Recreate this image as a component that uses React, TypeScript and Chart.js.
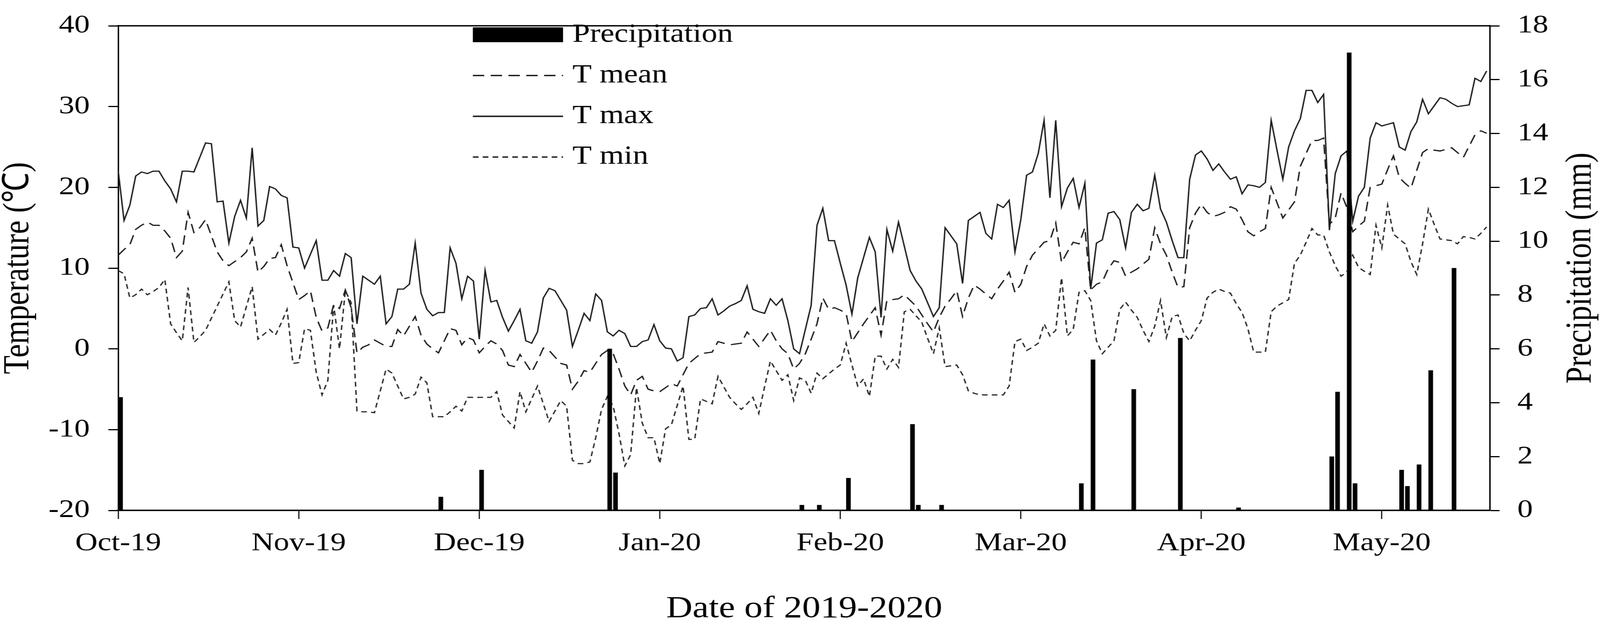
import { useEffect, useRef } from "react";
import { Chart, registerables } from "chart.js";

Chart.register(...registerables);

// day index 0 = 1 Oct 2019, one value per day up to day 235
const TMAX = [
  22.0, 15.9, 17.8, 21.4, 21.9, 21.7, 22.0, 22.0, 20.8, 19.8, 18.2, 22.0, 22.0, 21.9, 23.7, 25.5, 25.4, 18.2, 18.3, 13.1,
  16.4, 18.4, 16.2, 24.9, 15.2, 15.9, 20.1, 19.8, 19.0, 18.7, 12.6, 12.5, 10.0, 11.7, 13.4, 8.5, 8.5, 9.7, 9.0, 11.8,
  11.3, 3.1, 9.0, 8.5, 8.0, 9.0, 3.1, 4.0, 7.4, 7.4, 8.0, 13.1, 6.9, 4.9, 4.1, 4.5, 4.5, 12.5, 10.6, 6.2,
  9.0, 8.4, 1.2, 9.7, 5.8, 6.0, 3.9, 2.2, 3.5, 4.9, 1.0, 0.7, 2.1, 6.3, 7.5, 7.2, 6.0, 4.8, 0.3,
  2.3, 4.4, 3.5, 6.8, 6.0, 2.1, 1.6, 2.3, 1.9, 0.3, 0.3, 0.9, 1.1, 3.0, 1.0, 0.1, 0.0, -1.5, -1.1, 4.0,
  4.2, 5.0, 5.1, 6.2, 4.2, 4.7, 5.3, 5.6, 6.0, 7.8, 4.9, 4.6, 4.4, 6.2, 5.4, 6.2, 3.5, 0.0, -0.6,
  2.4, 5.4, 15.3, 17.4, 13.4, 13.4, 10.6, 7.9, 4.3, 8.8, 11.3, 13.8, 12.0, 3.9, 14.8, 12.1, 15.7, 12.7, 9.7, 8.4,
  7.4, 5.7, 4.0, 5.1, 15.0, 14.0, 13.0, 8.1, 15.9, 16.4, 16.9, 14.3, 13.6, 17.9, 17.5, 18.4, 12.0, 16.0, 21.5,
  21.9, 24.2, 28.3, 18.7, 28.3, 17.6, 19.9, 21.1, 17.5, 20.5, 7.4, 13.1, 13.5, 16.8, 17.0, 16.0, 12.5, 16.9, 17.9, 17.1,
  17.4, 21.5, 17.3, 15.7, 13.4, 11.3, 11.3, 21.0, 24.0, 24.5, 23.5, 22.1, 22.9, 21.9, 21.0, 21.3, 19.2, 20.3, 20.2,
  20.0, 20.6, 28.3, 24.6, 21.0, 25.0, 27.0, 28.5, 32.0, 32.0, 30.5, 31.5, 14.7, 21.7, 23.9, 24.5, 15.8, 18.9, 20.0, 26.1,
  28.0, 27.6, 27.8, 28.0, 25.0, 24.6, 26.9, 28.1, 30.9, 29.1, 30.1, 31.1, 30.9, 30.4, 30.0, 30.1, 30.2, 33.5, 33.1, 34.4,
];

const TMEAN = [
  11.6, 12.3, 12.9, 14.8, 15.3, 15.7, 15.3, 15.3, 14.6, 13.7, 11.3, 12.1, 16.9, 14.4, 15.0, 16.0, 14.0, 12.0, 10.9, 10.3,
  10.8, 11.3, 12.0, 13.7, 9.5, 10.2, 11.2, 11.3, 12.9, 10.3, 8.2, 6.1, 6.6, 7.2, 3.9, 2.2, 2.6, 5.5, 5.0, 7.3,
  5.1, -0.5, 0.2, 0.5, 1.1, 0.7, 0.3, 0.3, 2.4, 1.6, 2.8, 4.0, 1.7, 0.6, 0.0, -0.5, 1.0, 2.5, 2.3, 0.5,
  1.4, 1.1, -0.5, 0.3, 1.0, 0.6, -0.2, -2.0, -2.2, -0.7, -1.8, -2.9, -1.5, 0.1, -0.2, -1.0, -1.8, -2.0, -5.0,
  -4.0, -2.7, -2.9, -1.8, -0.7, -0.2, -0.6, -2.5, -4.6, -5.7, -3.9, -3.4, -5.0, -5.2, -5.3, -4.8, -4.3, -4.6, -3.2, -1.8,
  -1.2, -0.6, -0.5, -0.4, 0.9, 0.7, 0.5, 0.6, 0.7, 2.1, 1.2, 0.3, 1.3, 2.3, 1.0, 0.0, -0.6, -2.5, -1.8,
  -0.6, 1.2, 3.1, 6.3, 4.9, 5.1, 4.8, 4.4, 0.9, 2.0, 3.1, 4.1, 5.1, 1.7, 6.0, 6.1, 6.2, 6.7, 6.0, 5.3,
  4.2, 3.1, 2.1, 3.9, 5.3, 6.2, 7.2, 4.0, 6.3, 7.9, 7.4, 6.8, 6.2, 7.4, 8.4, 9.5, 7.0, 8.0, 10.2,
  11.6, 12.4, 13.2, 13.4, 15.6, 10.7, 12.0, 13.2, 13.0, 15.0, 7.3, 8.0, 8.3, 9.9, 10.9, 10.7, 9.0, 9.5, 9.9, 10.5,
  11.1, 15.0, 13.0, 11.6, 9.5, 7.6, 7.7, 15.0, 16.8, 17.9, 16.9, 16.4, 16.6, 16.9, 17.6, 17.3, 16.0, 14.5, 14.0,
  14.5, 14.9, 20.0, 18.1, 16.2, 17.2, 18.2, 22.6, 24.2, 25.8, 25.8, 26.1, 15.4, 16.2, 19.3, 17.5, 14.5, 15.2, 15.8, 20.0,
  20.2, 20.4, 22.2, 23.9, 21.2, 20.5, 19.9, 22.1, 24.3, 24.8, 24.6, 24.5, 24.7, 24.9, 24.3, 23.7, 25.1, 26.5, 27.0, 26.7,
];

const TMIN = [
  9.7, 9.3, 6.3, 6.7, 7.4, 6.7, 7.1, 7.6, 8.6, 3.1, 2.0, 1.0, 7.6, 0.8, 1.5, 2.3, 3.8, 5.3, 6.8, 8.3,
  3.5, 2.7, 5.2, 7.7, 1.2, 1.8, 2.4, 1.7, 3.2, 4.9, -1.8, -1.7, 2.5, 2.3, -2.9, -5.7, -3.9, 5.4, 0.0, 7.2,
  5.7, -7.7, -7.8, -7.8, -7.9, -5.2, -2.5, -3.0, -4.6, -6.2, -6.0, -5.6, -3.5, -4.2, -8.4, -8.4, -8.4, -7.8, -7.1, -7.7,
  -6.0, -6.0, -6.0, -6.0, -6.0, -5.3, -8.2, -9.0, -9.8, -5.3, -7.8, -6.2, -4.6, -6.8, -9.0, -7.7, -6.4, -7.1, -13.8,
  -14.2, -14.2, -14.0, -11.0, -7.5, -5.9, -7.1, -10.5, -14.5, -13.1, -4.8, -9.2, -11.0, -11.0, -14.2, -9.9, -9.4, -7.0, -4.6, -11.2,
  -11.2, -6.2, -6.5, -6.8, -3.4, -4.7, -6.0, -6.8, -7.5, -6.8, -6.0, -8.0, -4.7, -1.5, -2.7, -3.9, -3.2, -6.4, -3.6,
  -3.9, -5.5, -3.0, -3.7, -3.1, -2.5, -2.0, 0.7, -2.0, -4.6, -3.7, -5.9, -0.9, -0.9, -2.5, -1.3, -2.3, 4.6, 4.9, 4.1,
  3.3, 1.3, -0.6, 2.6, -2.2, -2.1, -2.0, -3.2, -5.2, -5.5, -5.7, -5.7, -5.7, -5.7, -5.7, -4.6, 0.9, 1.2, -0.2,
  0.2, 0.7, 3.1, 1.6, 2.3, 8.8, 1.6, 2.4, 7.0, 7.2, 6.0, 1.0, -0.6, 0.2, 1.0, 4.9, 5.8, 4.8, 3.9, 2.3,
  0.9, 2.8, 6.0, 1.4, 4.0, 4.2, 1.9, 1.0, 2.3, 3.5, 6.3, 7.0, 7.4, 7.1, 6.9, 5.6, 4.5, 2.5, -0.4,
  -0.4, -0.4, 4.6, 5.3, 5.7, 6.1, 10.6, 11.6, 13.2, 14.9, 14.1, 14.1, 12.0, 10.3, 9.0, 9.5, 11.6, 10.1, 9.6, 9.2,
  15.3, 12.5, 17.8, 14.2, 13.6, 13.0, 10.8, 9.2, 13.0, 17.3, 15.4, 13.6, 13.5, 13.4, 13.0, 13.9, 13.8, 13.6, 14.3, 15.1,
];

// rain days (day index) and amounts in mm
const RAIN_DAY = [0, 55, 62, 84, 85, 117, 120, 125, 136, 137, 141, 165, 167, 174, 182, 192, 208, 209, 211, 212, 220, 221, 223, 225, 229];
const RAIN_MM = [4.2, 0.5, 1.5, 6.0, 1.4, 0.2, 0.2, 1.2, 3.2, 0.2, 0.2, 1.0, 5.6, 4.5, 6.4, 0.1, 2.0, 4.4, 17.0, 1.0, 1.5, 0.9, 1.7, 5.2, 9.0];

const MONTH_TICK_DAYS = [0, 31, 62, 93, 124, 155, 186, 217];
const MONTH_LABELS = ["Oct-19", "Nov-19", "Dec-19", "Jan-20", "Feb-20", "Mar-20", "Apr-20", "May-20"];

// layout measured on a 4223 x 1589 frame, rescaled to the real viewport
const REF_W = 4223;
const REF_H = 1589;
const STRETCH = 1.2; // the source figure is stretched sideways
const FONT = '"Liberation Serif", "Times New Roman", serif';

// bars sit on the right half of their day, as in the source
const BAR_SHIFT = 0.4;

function makeGeometry(W: number, H: number) {
  const kx = W / REF_W;
  const ky = H / REF_H;
  const fx = (v: number) => (v * kx) / STRETCH; // frame x -> canvas x
  const fy = (v: number) => v * ky;
  return { W, H, kx, ky, fx, fy, canvasW: W / STRETCH };
}

export default function App() {
  const chartRef = useRef<HTMLCanvasElement>(null);
  const W = window.innerWidth || REF_W;
  const H = window.innerHeight || REF_H;
  const g = makeGeometry(W, H);

  useEffect(() => {
    if (!chartRef.current) return;
    document.documentElement.style.overflow = "hidden";
    document.body.style.margin = "0";

    const { fx, fy, canvasW } = g;
    const fs = (v: number) => fy(v);

    Chart.defaults.font.family = FONT;
    Chart.defaults.color = "#000";

    const legend = {
      id: "insideLegend",
      afterDraw(chart: any) {
        const ctx = chart.ctx;
        const x0 = fx(1248);
        const sample = fx(238);
        ctx.save();
        ctx.font = `${fs(67)}px ${FONT}`;
        ctx.textBaseline = "middle";
        ctx.textAlign = "left";
        chart.data.datasets.forEach((ds: any, i: number) => {
          const y = fy(89 + i * 104.3);
          if (ds.type === "bar") {
            ctx.fillStyle = ds.backgroundColor;
            ctx.fillRect(x0, y - fy(19), sample, fy(38));
          } else {
            ctx.strokeStyle = ds.borderColor;
            ctx.lineWidth = ds.borderWidth + fs(0.6);
            ctx.setLineDash(ds.borderDash || []);
            ctx.beginPath();
            ctx.moveTo(x0, y);
            ctx.lineTo(x0 + sample, y);
            ctx.stroke();
            ctx.setLineDash([]);
          }
          ctx.fillStyle = "#000";
          ctx.fillText(ds.label, fx(1511), y);
        });
        ctx.restore();
      },
    };

    const frameAndRightTitle = {
      id: "frameAndRightTitle",
      afterDraw(chart: any) {
        const { ctx, chartArea } = chart;
        ctx.save();
        ctx.strokeStyle = "#000";
        ctx.lineWidth = fs(3.5);
        ctx.beginPath();
        ctx.moveTo(chartArea.left, chartArea.top);
        ctx.lineTo(chartArea.right, chartArea.top);
        ctx.stroke();

        ctx.translate(fx(4173), (chartArea.top + chartArea.bottom) / 2);
        ctx.rotate(-Math.PI / 2);
        ctx.font = `${fs(78)}px ${FONT}`;
        ctx.fillStyle = "#000";
        ctx.textAlign = "center";
        ctx.textBaseline = "middle";
        ctx.fillText("Precipitation (mm)", 0, 0);
        ctx.restore();
      },
    };

    const chartInstance = new Chart(chartRef.current, {
      data: {
        datasets: [
          {
            type: "bar",
            label: "Precipitation",
            data: RAIN_DAY.map((d, i) => ({ x: d + BAR_SHIFT, y: RAIN_MM[i] })),
            yAxisID: "y2",
            backgroundColor: "#000",
            borderWidth: 0,
            barThickness: fx(11.4),
            order: 0,
          },
          {
            type: "line",
            label: "T mean",
            data: TMEAN.map((v, i) => ({ x: i, y: v })),
            yAxisID: "y",
            borderColor: "#1c1c1c",
            borderWidth: fs(3),
            borderDash: [fx(30), fx(17)],
            pointRadius: 0,
            tension: 0,
            order: 1,
          },
          {
            type: "line",
            label: "T max",
            data: TMAX.map((v, i) => ({ x: i, y: v })),
            yAxisID: "y",
            borderColor: "#1c1c1c",
            borderWidth: fs(3),
            pointRadius: 0,
            tension: 0,
            order: 1,
          },
          {
            type: "line",
            label: "T min",
            data: TMIN.map((v, i) => ({ x: i, y: v })),
            yAxisID: "y",
            borderColor: "#2a2a2a",
            borderWidth: fs(3),
            borderDash: [fx(15), fx(11)],
            pointRadius: 0,
            tension: 0,
            order: 1,
          },
        ],
      },
      options: {
        responsive: true,
        maintainAspectRatio: false,
        animation: false,
        events: [],
        layout: { padding: { top: fy(28), left: 0, right: 0, bottom: 0 } },
        plugins: {
          legend: { display: false },
          tooltip: { enabled: false },
        },
        scales: {
          x: {
            type: "linear",
            offset: false,
            min: 0,
            max: 235.6,
            afterBuildTicks: (s: any) => {
              s.ticks = MONTH_TICK_DAYS.map((v) => ({ value: v }));
            },
            afterFit: (s: any) => {
              s.height = fy(REF_H - 1306);
            },
            ticks: {
              autoSkip: false,
              maxRotation: 0,
              padding: fy(62.7) - fs(39.6),
              font: { size: fs(66), lineHeight: 1.2 },
              color: "#000",
              callback: (v: any) => MONTH_LABELS[MONTH_TICK_DAYS.indexOf(v)] ?? "",
            },
            grid: { offset: false, drawOnChartArea: false, drawTicks: true, tickLength: fy(22), tickColor: "#000", tickWidth: fx(3) },
            border: { display: true, color: "#000", width: fs(3.8) },
            title: {
              display: true,
              text: "Date of 2019-2020",
              color: "#000",
              font: { size: fs(78), lineHeight: 0.7 },
              padding: { top: 0, bottom: fy(30.3) - fs(27.3) },
            },
          },
          y: {
            type: "linear",
            position: "left",
            min: -20,
            max: 40,
            afterFit: (s: any) => {
              s.width = fx(312);
            },
            ticks: { stepSize: 10, padding: fx(49), color: "#000", font: { size: fs(66), lineHeight: 0.8 } },
            grid: { drawOnChartArea: false, drawTicks: true, tickLength: fx(26), tickColor: "#000", tickWidth: fs(3) },
            border: { display: true, color: "#000", width: fx(3.8) },
            title: {
              display: true,
              text: "Temperature (℃)",
              color: "#000",
              font: { size: fs(78), lineHeight: 1 },
              padding: { top: Math.max(0, fx(49) - fs(39)), bottom: 0 },
            },
          },
          y2: {
            type: "linear",
            position: "right",
            min: 0,
            max: 18,
            afterFit: (s: any) => {
              s.width = canvasW - fx(3933);
            },
            ticks: { stepSize: 2, padding: fx(47), color: "#000", font: { size: fs(66), lineHeight: 0.8 } },
            grid: { drawOnChartArea: false, drawTicks: true, tickLength: fx(25), tickColor: "#000", tickWidth: fs(3) },
            border: { display: true, color: "#000", width: fx(3.8) },
          },
        },
      },
      plugins: [legend, frameAndRightTitle],
    } as any);

    return () => {
      chartInstance.destroy();
    };
  }, []);

  return (
    <div style={{ position: "fixed", left: 0, top: 0, width: "100vw", height: "100vh", overflow: "hidden", background: "#fff" }}>
      <div style={{ width: g.canvasW, height: H, transform: `scaleX(${STRETCH})`, transformOrigin: "0 0" }}>
        <canvas ref={chartRef} style={{ display: "block" }}></canvas>
      </div>
    </div>
  );
}
